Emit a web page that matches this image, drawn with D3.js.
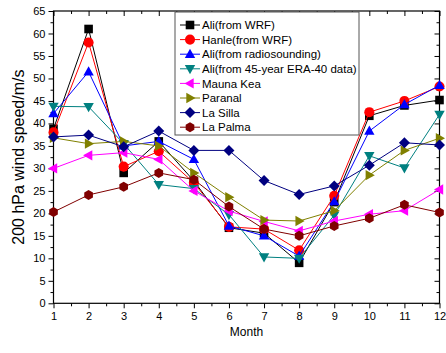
<!DOCTYPE html>
<html><head><meta charset="utf-8">
<script src="https://cdn.jsdelivr.net/npm/d3@7"></script>
<style>body{margin:0;background:#fff}svg{display:block;font-family:"Liberation Sans",Arial,sans-serif}</style>
</head><body><svg id="c" width="446" height="353"></svg>
<script>
const months = [1,2,3,4,5,6,7,8,9,10,11,12];
const seriesNames = ["Ali(from WRF)","Hanle(from WRF)","Ali(from radiosounding)","Ali(from 45-year ERA-40 data)","Mauna Kea","Paranal","La Silla","La Palma"];
const aliWRF   = [38.8,61.0,29.0,36.0,27.2,16.8,15.6,9.0,22.5,41.7,44.0,45.2];
const hanleWRF = [38.0,58.0,30.4,33.8,26.8,17.0,16.5,11.8,23.9,42.5,45.0,48.2];
const aliRadio = [42.2,51.5,35.0,36.0,32.0,17.2,15.0,10.5,22.6,38.3,44.2,48.5];
const aliERA40 = [43.8,43.7,35.5,26.4,25.5,19.7,10.3,10.0,19.6,32.8,30.1,42.0];
const maunaKea = [30.0,32.9,33.5,32.0,25.0,20.5,18.2,16.1,18.3,19.8,20.6,25.3];
const paranal  = [36.8,35.5,36.0,35.0,29.0,23.6,18.5,18.3,20.6,28.5,34.0,36.7];
const laSilla  = [37.0,37.4,34.8,38.3,34.0,34.0,27.3,24.2,26.1,30.7,35.7,35.2];
const laPalma  = [20.3,24.1,25.9,29.0,27.5,21.5,16.5,15.0,17.2,18.9,21.9,20.2];
const yTicks = [0,5,10,15,20,25,30,35,40,45,50,55,60,65];
const xTicks = months;
const seriesValues = [aliWRF,hanleWRF,aliRadio,aliERA40,maunaKea,paranal,laSilla,laPalma];
const colors = ["#000000","#ff0000","#0000ff","#008080","#ff00ff","#808000","#000080","#800000"];
const shapes = ["square","circle","up","down","left","right","diamond","hexagon"];

const svg = d3.select("#c");
const L=53.5,R=439.5,T=11,B=303.3;
const x = d3.scaleLinear().domain([1,12]).range([L,R]);
const y = d3.scaleLinear().domain([0,65]).range([B,T]);

function shapePath(s){
  const r=5;
  switch(s){
    case "square": return "M-4.3,-4.3H4.3V4.3H-4.3Z";
    case "circle": return d3.symbol(d3.symbolCircle,80)();
    case "up": return "M0,-5.5L5.2,3.7L-5.2,3.7Z";
    case "down": return "M0,5.5L5.2,-3.7L-5.2,-3.7Z";
    case "left": return "M-5.5,0L3.7,-5.2L3.7,5.2Z";
    case "right": return "M5.5,0L-3.7,-5.2L-3.7,5.2Z";
    case "diamond": return "M0,-5.5L5.5,0L0,5.5L-5.5,0Z";
    case "hexagon": {
      const pts=d3.range(6).map(i=>{const a=Math.PI/6+i*Math.PI/3;return [r*Math.cos(a),r*Math.sin(a)];});
      return "M"+pts.map(p=>p.join(",")).join("L")+"Z";
    }
  }
}

// axes
svg.append("g").attr("transform",`translate(0,${B})`)
  .call(d3.axisBottom(x).tickValues(xTicks).tickFormat(d3.format("d")).tickSize(5).tickPadding(4));
svg.append("g").attr("transform",`translate(0,${B})`)
  .call(d3.axisBottom(x).tickValues(d3.range(1.5,12,1)).tickFormat("").tickSize(3));
svg.append("g").attr("transform",`translate(${L},0)`)
  .call(d3.axisLeft(y).tickValues(yTicks).tickSize(5).tickPadding(3));
svg.append("g").attr("transform",`translate(${L},0)`)
  .call(d3.axisLeft(y).tickValues(d3.range(2.5,65,5)).tickFormat("").tickSize(3));
svg.append("g").attr("transform",`translate(0,${T})`)
  .call(d3.axisBottom(x).tickValues(xTicks).tickFormat("").tickSize(5));
svg.append("g").attr("transform",`translate(0,${T})`)
  .call(d3.axisBottom(x).tickValues(d3.range(1.5,12,1)).tickFormat("").tickSize(3));
svg.append("g").attr("transform",`translate(${R},0)`)
  .call(d3.axisLeft(y).tickValues(yTicks).tickFormat("").tickSize(5));
svg.append("g").attr("transform",`translate(${R},0)`)
  .call(d3.axisLeft(y).tickValues(d3.range(2.5,65,5)).tickFormat("").tickSize(3));
svg.selectAll(".domain").remove();
svg.selectAll(".tick line").attr("stroke","#000").attr("stroke-width",1);
svg.selectAll(".tick text").attr("font-size",11).attr("fill","#000").attr("font-family","Liberation Sans, Arial, sans-serif");
svg.append("rect").attr("x",L).attr("y",T).attr("width",R-L).attr("height",B-T)
  .attr("fill","none").attr("stroke","#000").attr("stroke-width",1.2);

// series
const line = d3.line().x((d,i)=>x(months[i])).y(d=>y(d));
seriesValues.forEach((vals,k)=>{
  const g = svg.append("g");
  g.append("path").attr("d",line(vals)).attr("fill","none").attr("stroke",colors[k]).attr("stroke-width",1);
  g.selectAll("path.m").data(vals).enter().append("path").attr("class","m")
    .attr("d",shapePath(shapes[k]))
    .attr("transform",(d,i)=>`translate(${x(months[i])},${y(d)})`)
    .attr("fill",colors[k]);
});

// legend
const lg = svg.append("g");
lg.append("rect").attr("x",175).attr("y",12).attr("width",184).attr("height",123)
  .attr("fill","#fff").attr("stroke","#555").attr("stroke-width",1);
seriesNames.forEach((n,k)=>{
  const yy = 25 + k*14.6;
  lg.append("line").attr("x1",180).attr("x2",200).attr("y1",yy).attr("y2",yy).attr("stroke",colors[k]).attr("stroke-width",1);
  lg.append("path").attr("d",shapePath(shapes[k])).attr("transform",`translate(190,${yy})`).attr("fill",colors[k]);
  lg.append("text").attr("x",202).attr("y",yy+4.2).attr("font-size",11.5).attr("fill","#000").text(n);
});

// axis titles
svg.append("text").attr("x",(L+R)/2).attr("y",336).attr("text-anchor","middle").attr("font-size",12).text("Month");
svg.append("text").attr("transform",`translate(24,${(T+B)/2}) rotate(-90)`).attr("text-anchor","middle")
  .attr("font-size",16).text("200 hPa wind speed/m/s");
</script></body></html>
